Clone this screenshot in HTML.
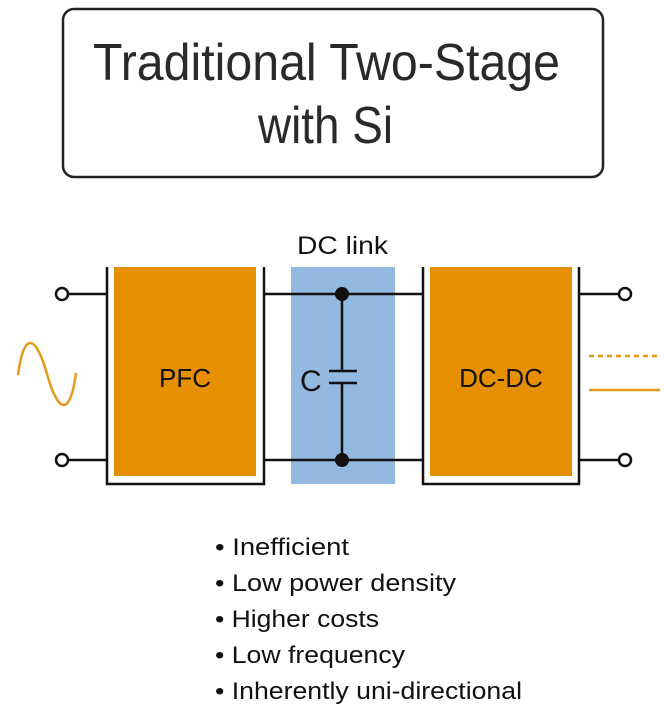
<!DOCTYPE html>
<html><head><style>
body{margin:0;width:664px;height:718px;background:#fff;overflow:hidden;font-family:"Liberation Sans",sans-serif}
</style></head><body>
<svg width="664" height="718" viewBox="0 0 664 718" xmlns="http://www.w3.org/2000/svg" style="position:absolute;left:0;top:0">
<rect x="63" y="9" width="540" height="168" rx="11" fill="#fff" stroke="#222" stroke-width="2.5"/>
<text x="93" y="80" textLength="467" lengthAdjust="spacingAndGlyphs" font-size="52" fill="#2a2a2a" font-family="Liberation Sans, sans-serif">Traditional Two-Stage</text>
<text x="258" y="143" textLength="135" lengthAdjust="spacingAndGlyphs" font-size="52" fill="#2a2a2a" font-family="Liberation Sans, sans-serif">with Si</text>

<text x="297" y="254" textLength="91" lengthAdjust="spacingAndGlyphs" font-size="25" fill="#111">DC link</text>
<rect x="291" y="267" width="104" height="217" fill="#94b9e0"/>

<g stroke="#111" stroke-width="2.5" fill="none">
<polyline points="107,267 107,484 264,484 264,267"/>
<polyline points="423,267 423,484 579,484 579,267"/>
<line x1="68" y1="294" x2="107" y2="294"/>
<line x1="68" y1="460" x2="107" y2="460"/>
<line x1="264" y1="294" x2="423" y2="294"/>
<line x1="264" y1="460" x2="423" y2="460"/>
<line x1="579" y1="294" x2="619" y2="294"/>
<line x1="579" y1="460" x2="619" y2="460"/>
<line x1="342" y1="294" x2="342" y2="371"/>
<line x1="342" y1="383" x2="342" y2="460"/>
<line x1="329" y1="371" x2="357" y2="371"/>
<line x1="329" y1="383" x2="357" y2="383"/>
<circle cx="62" cy="294" r="6" fill="#fff"/>
<circle cx="62" cy="460" r="6" fill="#fff"/>
<circle cx="625" cy="294" r="6" fill="#fff"/>
<circle cx="625" cy="460" r="6" fill="#fff"/>
</g>
<circle cx="342" cy="294" r="7" fill="#111"/>
<circle cx="342" cy="460" r="7" fill="#111"/>
<rect x="114" y="267" width="142" height="209" fill="#e68f00"/>
<rect x="430" y="267" width="142" height="209" fill="#e68f00"/>
<text x="185" y="387" text-anchor="middle" font-size="26" fill="#111">PFC</text>
<text x="501" y="387" text-anchor="middle" font-size="26" fill="#111">DC-DC</text>
<text x="300" y="391" font-size="30" fill="#111">C</text>
<path d="M18,375 C24,330 36,335 47,374 C58,413 70,418 76,373" stroke="#e69a1a" stroke-width="2.5" fill="none"/>
<line x1="589" y1="356" x2="660" y2="356" stroke="#e69a1a" stroke-width="2.5" stroke-dasharray="5,4"/>
<line x1="589" y1="390" x2="660" y2="390" stroke="#e69a1a" stroke-width="2.5"/>
<g font-size="24" fill="#111">
<text x="215" y="555" textLength="134" lengthAdjust="spacingAndGlyphs">• Inefficient</text>
<text x="215" y="591" textLength="241" lengthAdjust="spacingAndGlyphs">• Low power density</text>
<text x="215" y="627" textLength="164" lengthAdjust="spacingAndGlyphs">• Higher costs</text>
<text x="215" y="663" textLength="190" lengthAdjust="spacingAndGlyphs">• Low frequency</text>
<text x="215" y="699" textLength="307" lengthAdjust="spacingAndGlyphs">• Inherently uni-directional</text>
</g>
</svg>
</body></html>
